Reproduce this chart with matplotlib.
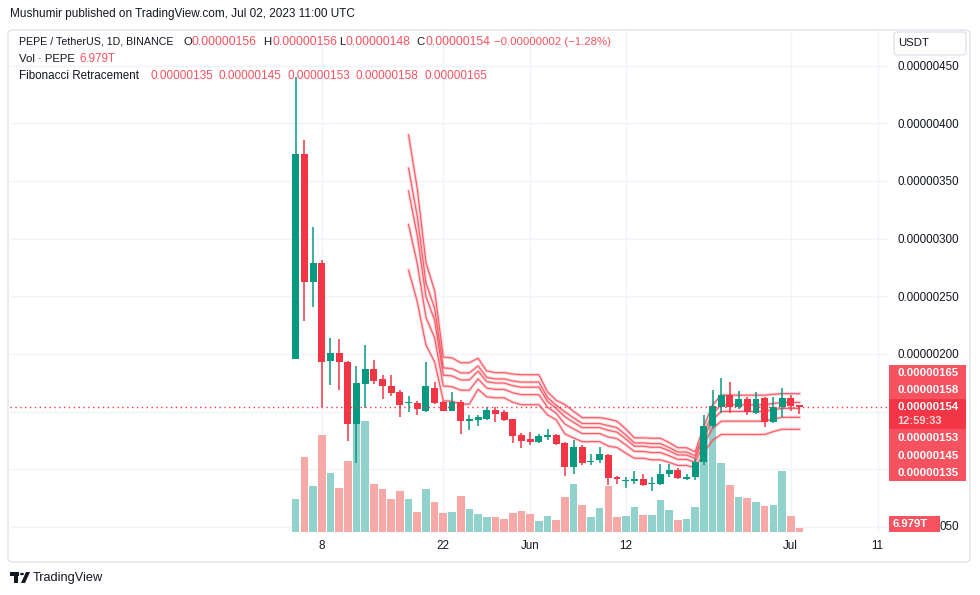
import matplotlib
matplotlib.use("Agg")
import matplotlib.pyplot as plt
import matplotlib.transforms as mtransforms
from matplotlib.patches import Rectangle, FancyBboxPatch, Polygon, Circle

plt.rcParams["font.family"] = ["Liberation Sans", "DejaVu Sans"]

# ── DATA ──────────────────────────────────────────────────────────────────────
# prices in units of 1e-8 USDT, x = days after May 8 2023 (May 5 .. Jul 2)
day = list(range(-3, 56))

open_e8 = [195.7, 373.4, 262.7, 278.6, 193.9, 201.2, 193.4, 139.3, 174.0, 187.0,
           178.0, 172.3, 167.0, 157.2, 157.8, 150.8, 170.4, 158.4, 150.9, 158.4,
           142.2, 142.5, 143.8, 151.4, 149.8, 143.6, 129.8, 126.3, 123.6, 128.3,
           129.8, 123.1, 102.2, 119.4, 106.1, 108.1, 112.4, 93.1, 90.0, 89.8,
           91.6, 87.5, 87.3, 95.9, 99.4, 91.7, 93.6, 106.6, 137.2, 153.8,
           164.4, 154.3, 161.0, 149.1, 161.8, 141.3, 153.7, 161.8, 156.0]
high_e8 = [440.0, 385.5, 310.1, 281.2, 213.6, 212.7, 194.2, 189.6, 207.8, 194.8,
           181.8, 181.8, 168.8, 163.6, 159.2, 193.1, 175.6, 159.0, 167.0, 160.1,
           147.1, 147.5, 153.7, 153.7, 151.4, 144.0, 131.5, 132.2, 130.5, 134.9,
           130.5, 124.0, 125.3, 121.1, 113.3, 119.0, 113.0, 94.2, 93.6, 98.7,
           96.2, 93.0, 104.6, 104.6, 100.9, 95.9, 109.0, 147.1, 168.8, 178.9,
           176.0, 167.9, 163.0, 167.0, 162.5, 162.4, 170.8, 164.2, 156.0]
low_e8 = [195.7, 228.6, 241.0, 154.3, 173.1, 168.8, 124.9, 105.2, 153.5, 174.0,
          161.0, 163.9, 145.7, 150.0, 147.1, 149.7, 156.6, 150.5, 150.5, 130.9,
          134.1, 137.9, 142.8, 141.0, 141.9, 123.1, 118.8, 121.1, 122.5, 125.4,
          121.1, 94.3, 96.1, 103.7, 103.8, 105.2, 86.4, 87.3, 84.2, 87.1,
          85.2, 81.5, 86.5, 93.6, 91.3, 90.7, 90.4, 103.8, 135.5, 148.5,
          149.1, 152.0, 147.1, 148.0, 136.4, 140.4, 145.6, 150.9, 148.0]
close_e8 = [373.4, 262.7, 278.6, 193.4, 201.2, 192.8, 139.3, 174.9, 187.0, 176.9,
            172.3, 166.2, 155.8, 158.7, 152.6, 172.2, 157.8, 150.9, 158.4, 142.2,
            143.3, 145.4, 151.4, 148.0, 142.8, 129.1, 124.9, 124.0, 128.9, 129.8,
            122.0, 102.3, 119.4, 105.8, 107.5, 113.1, 92.8, 91.3, 90.7, 91.5,
            86.4, 88.4, 95.9, 99.4, 92.5, 93.6, 106.6, 137.6, 154.9, 164.4,
            154.3, 161.0, 150.0, 161.0, 141.3, 153.7, 161.8, 154.9, 154.0]
# volume in trillions of PEPE
volume_t = [57.6, 130.9, 80.3, 169.3, 103.0, 76.8, 123.9, 188.5, 193.7, 83.8,
            75.0, 57.6, 71.5, 57.6, 34.9, 75.0, 52.4, 33.2, 34.9, 62.8,
            40.1, 31.4, 26.2, 26.2, 22.7, 33.2, 36.6, 31.4, 19.2, 27.9,
            20.9, 61.1, 83.8, 47.1, 26.2, 41.9, 80.3, 26.2, 27.9, 43.6,
            29.7, 29.7, 55.8, 38.4, 20.9, 22.7, 43.6, 178.0, 213.0, 120.4,
            82.0, 61.1, 59.3, 52.4, 45.4, 47.1, 106.4, 27.9, 7.0]

# Fibonacci retracement lines, May 18 .. Jul 2
fib_day = list(range(10, 56))
fib_a = [272.6, 245.4, 207.7, 193.2, 159.4, 159.0, 156.5, 156.5, 169.4, 162.9,
         162.0, 162.0, 158.1, 156.0, 156.0, 156.0, 147.2, 142.9, 130.7, 127.2,
         124.0, 124.0, 124.0, 120.1, 118.9, 114.1, 109.6, 109.6, 108.2, 108.2,
         106.0, 103.4, 103.4, 101.3, 114.3, 125.2, 130.2, 130.2, 130.2, 130.2,
         130.2, 130.2, 132.7, 134.7, 134.7, 134.7]
fib_b = [312.1, 278.4, 231.8, 214.0, 172.2, 171.6, 168.6, 168.6, 178.4, 170.4,
         169.3, 169.3, 166.4, 164.7, 164.7, 164.7, 153.9, 148.6, 139.2, 135.0,
         131.0, 131.0, 131.0, 128.0, 126.6, 121.2, 115.5, 115.5, 114.5, 114.5,
         111.8, 108.6, 108.6, 106.0, 122.0, 135.5, 141.7, 141.7, 141.7, 141.7,
         141.7, 141.7, 143.6, 145.1, 145.1, 145.1]
fib_c = [341.2, 302.8, 249.7, 229.3, 181.6, 181.0, 177.5, 177.5, 185.1, 176.0,
         174.8, 174.8, 172.5, 171.2, 171.2, 171.2, 158.8, 152.8, 145.6, 140.7,
         136.2, 136.2, 136.2, 133.8, 132.2, 126.4, 120.0, 120.0, 119.1, 119.1,
         116.0, 112.4, 112.4, 109.4, 127.7, 143.0, 150.2, 150.2, 150.2, 150.2,
         150.2, 150.2, 151.6, 152.8, 152.8, 152.8]
fib_d = [361.0, 319.4, 261.7, 239.7, 188.0, 187.3, 183.6, 183.6, 189.7, 179.7,
         178.4, 178.4, 176.6, 175.6, 175.6, 175.6, 162.2, 155.6, 149.8, 144.6,
         139.7, 139.7, 139.7, 137.8, 136.1, 129.9, 122.9, 122.9, 122.3, 122.3,
         118.9, 115.0, 115.0, 111.8, 131.6, 148.2, 155.9, 155.9, 155.9, 155.9,
         155.9, 155.9, 157.1, 158.0, 158.0, 158.0]
fib_e = [389.8, 343.5, 279.4, 254.8, 197.3, 196.6, 192.4, 192.4, 196.3, 185.2,
         183.8, 183.8, 182.6, 182.0, 182.0, 182.0, 167.1, 159.8, 156.1, 150.2,
         144.8, 144.8, 144.8, 143.6, 141.7, 135.0, 127.3, 127.3, 126.9, 126.9,
         123.2, 118.7, 118.7, 115.2, 137.3, 155.7, 164.3, 164.3, 164.3, 164.3,
         164.3, 164.3, 165.0, 165.6, 165.6, 165.6]

last_close = 154.0
price_ticks = [50, 100, 150, 200, 250, 300, 350, 400, 450]
time_ticks = [0, 14, 24, 35, 54, 64]
time_labels = ["8", "22", "Jun", "12", "Jul", "11"]
fib_labels = ["0.00000135", "0.00000145", "0.00000153", "0.00000158", "0.00000165"]

# ── COLOURS ───────────────────────────────────────────────────────────────────
C_UP = "#089981"
C_DN = "#f23645"
C_UP_VOL = "#92d2cc"
C_DN_VOL = "#f7a9a7"
C_FIB = "#f7525f"
C_TXT = "#131722"
C_GRID = "#f0f3fa"

W_PX, H_PX = 980, 595
FS_WORD = 8.2
FS_NUM = 8.8


def fx(px):
    return px / W_PX


def fy(py):
    return 1 - py / H_PX


fig = plt.figure(figsize=(9.8, 5.95), dpi=100)
fig.patch.set_facecolor("white")

pane = [fx(10), fy(532), fx(888) - fx(10), fy(30) - fy(532)]
ax_grid = fig.add_axes(pane)
ax_vol = fig.add_axes(pane, sharex=ax_grid)
ax = fig.add_axes(pane, sharex=ax_grid)
for a in (ax_grid, ax_vol, ax):
    for s in a.spines.values():
        s.set_visible(False)
for a in (ax_vol, ax):
    a.patch.set_visible(False)
    a.tick_params(left=False, bottom=False, labelleft=False, labelbottom=False)

ax_grid.set_xlim(-35.89, 65.2)
ax_grid.set_ylim(45.65, 480.9)
ax.set_ylim(45.65, 480.9)
ax_vol.set_ylim(0, 876)

# ── GRID + AXES LABELS ────────────────────────────────────────────────────────
# labels at 50/100/150 sit under the red price tags in the original
ax_grid.set_xticks(time_ticks)
ax_grid.set_xticklabels(time_labels)
ax_grid.set_yticks(price_ticks)
ax_grid.set_yticklabels(["" if v < 200 else f"{v * 1e-8:.8f}" for v in price_ticks])
ax_grid.yaxis.tick_right()
ax_grid.tick_params(axis="y", length=0, pad=6.5, labelsize=8.4, labelcolor=C_TXT)
ax_grid.tick_params(axis="x", length=0, pad=6, labelsize=8.4, labelcolor=C_TXT)
ax_grid.grid(True, color=C_GRID, linewidth=1)

# only the tail "050" of the 0.00000050 label peeks out beside the volume tag
tr = mtransforms.blended_transform_factory(ax_grid.transAxes, ax_grid.transData) + \
    mtransforms.ScaledTranslation(0.71, 0, fig.dpi_scale_trans)
ax_grid.text(1.0, price_ticks[0], "050", transform=tr, fontsize=8.4, color=C_TXT,
             ha="right", va="center")

# ── VOLUME ────────────────────────────────────────────────────────────────────
up = [c >= o for o, c in zip(open_e8, close_e8)]
ax_vol.bar(day, volume_t, width=0.88,
           color=[C_UP_VOL if u else C_DN_VOL for u in up], linewidth=0)

# ── FIB LINES ─────────────────────────────────────────────────────────────────
for lv in (fib_a, fib_b, fib_c, fib_d, fib_e):
    ax.plot(fib_day, lv, color=C_FIB, linewidth=2.4, alpha=0.22, zorder=2)
    ax.plot(fib_day, lv, color=C_FIB, linewidth=0.9, alpha=0.9, zorder=2)

# ── CANDLES ───────────────────────────────────────────────────────────────────
cols = [C_UP if u else C_DN for u in up]
ax.vlines(day, low_e8, high_e8, colors=cols, linewidth=1.1, zorder=3)
bottoms = [min(o, c) for o, c in zip(open_e8, close_e8)]
heights = [max(abs(c - o), 0.9) for o, c in zip(open_e8, close_e8)]
ax.bar(day, heights, bottom=bottoms, width=0.8, color=cols, linewidth=0, zorder=4)

ax.axhline(last_close, color=C_DN, linewidth=1, linestyle=(0, (1, 2.5)), zorder=5)

# ── RIGHT SCALE TAGS ──────────────────────────────────────────────────────────
fig.add_artist(Rectangle((fx(889), fy(481)), fx(966) - fx(889), fy(365) - fy(481),
                         transform=fig.transFigure, color=C_FIB, linewidth=0))
fig.add_artist(Rectangle((fx(889), fy(429)), fx(966) - fx(889), fy(399) - fy(429),
                         transform=fig.transFigure, color=C_DN, linewidth=0))
fig.add_artist(Rectangle((fx(889), fy(532)), fx(940) - fx(889), fy(516) - fy(532),
                         transform=fig.transFigure, color=C_FIB, linewidth=0))
right_lbls = [("0.00000165", 373.3), ("0.00000158", 390.0), ("0.00000154", 406.8),
              ("0.00000153", 438.3), ("0.00000145", 456.0), ("0.00000135", 472.7)]
for s, yy in right_lbls:
    fig.text(fx(897), fy(yy), s, color="white", fontsize=8.2, fontweight="bold",
             ha="left", va="center")
fig.text(fx(897), fy(421.5), "12:59:33", color="#fbd3d6", fontsize=8.0,
         fontweight="bold", ha="left", va="center")
fig.text(fx(893), fy(524.3), "6.979T", color="white", fontsize=8.2,
         fontweight="bold", ha="left", va="center")

fig.add_artist(FancyBboxPatch((fx(894), fy(55)), fx(966) - fx(894), fy(32) - fy(55),
                              boxstyle="round,pad=0,rounding_size=0.004",
                              transform=fig.transFigure, facecolor="white",
                              edgecolor="#e0e3eb", linewidth=1))
fig.text(fx(898), fy(43.5), "USDT", color=C_TXT, fontsize=8.2, ha="left", va="center")

# ── HEADER TEXT ───────────────────────────────────────────────────────────────
fig.text(fx(10), fy(14), "Mushumir published on TradingView.com, Jul 02, 2023 11:00 UTC",
         color=C_TXT, fontsize=8.5, ha="left", va="center")

hdr = [("PEPE / TetherUS, 1D, BINANCE", 18.7, C_TXT, 7.7), ("O", 183.0, C_TXT, FS_WORD),
       ("0.00000156", 191.2, C_FIB, FS_NUM), ("H", 263.3, C_TXT, FS_WORD),
       ("0.00000156", 272.0, C_FIB, FS_NUM), ("L", 339.3, C_TXT, FS_WORD),
       ("0.00000148", 345.8, C_FIB, FS_NUM), ("C", 416.3, C_TXT, FS_WORD),
       ("0.00000154", 425.0, C_FIB, FS_NUM),
       ("\u22120.00000002 (\u22121.28%)", 493.5, C_FIB, 8.2)]
for s, xx, c, fs in hdr:
    fig.text(fx(xx), fy(42), s, color=c, fontsize=fs, ha="left", va="center")
fig.text(fx(18.7), fy(59), "Vol \u00b7 PEPE", color=C_TXT, fontsize=FS_WORD,
         ha="left", va="center")
fig.text(fx(79.5), fy(59), "6.979T", color=C_FIB, fontsize=8.4, ha="left", va="center")
fig.text(fx(18.7), fy(76), "Fibonacci Retracement", color=C_TXT, fontsize=8.4,
         ha="left", va="center")
for s, xx in zip(fib_labels, [150.0, 218.6, 287.0, 355.7, 424.5]):
    fig.text(fx(xx), fy(76), s, color=C_FIB, fontsize=8.5, ha="left", va="center")

# ── FRAME + LOGO ──────────────────────────────────────────────────────────────
fig.add_artist(FancyBboxPatch((fx(8), fy(562)), fx(970) - fx(8), fy(30) - fy(562),
                              boxstyle="round,pad=0,rounding_size=0.006",
                              transform=fig.transFigure, fill=False,
                              edgecolor="#e0e3eb", linewidth=1))

fig.add_artist(Rectangle((fx(10), fy(576)), fx(19) - fx(10), fy(572) - fy(576),
                         transform=fig.transFigure, color=C_TXT, linewidth=0))
fig.add_artist(Rectangle((fx(14), fy(583)), fx(18) - fx(14), fy(572) - fy(583),
                         transform=fig.transFigure, color=C_TXT, linewidth=0))
fig.add_artist(Circle((fx(22), fy(574)), 2.0 / W_PX, transform=fig.transFigure,
                      color=C_TXT, linewidth=0))
fig.add_artist(Polygon([(fx(21), fy(583)), (fx(26), fy(572)), (fx(30), fy(572)),
                        (fx(25), fy(583))], closed=True, transform=fig.transFigure,
                       color=C_TXT, linewidth=0))
fig.text(fx(33), fy(578), "TradingView", color=C_TXT, fontsize=9.2, ha="left", va="center")

fig.savefig("out.png", dpi=100, facecolor="white")
